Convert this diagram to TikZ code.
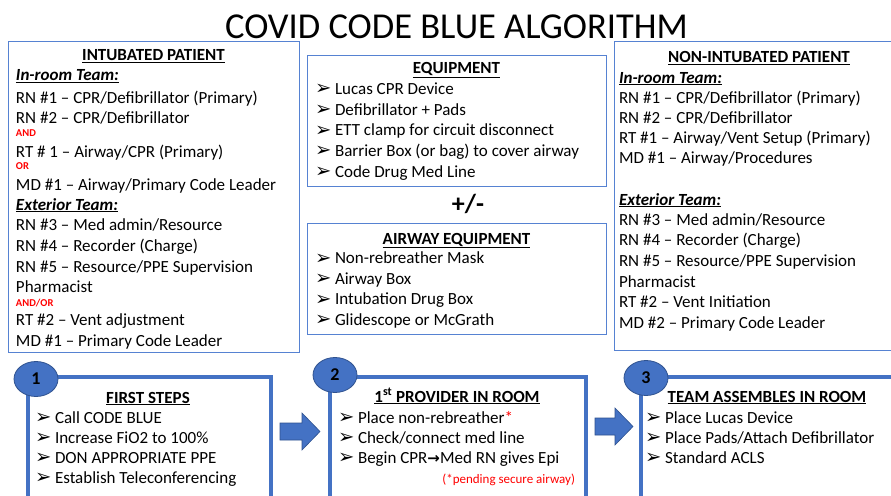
\documentclass[tikz,border=0pt]{standalone}
\usepackage{fontspec}
\setmainfont{Carlito}
\newfontfamily\dejavu{DejaVu Sans}
\usetikzlibrary{shapes.geometric}
\definecolor{accent}{RGB}{68,114,196}
\definecolor{accentdark}{RGB}{47,82,143}
\definecolor{thinblue}{RGB}{86,130,210}
\newcommand{\bitem}[1]{\makebox[20pt][l]{\raisebox{-0.5pt}{\fontsize{19.5}{14}\dejavu ➢}}#1}
\tikzset{
  plain/.style={inner sep=0pt, outer sep=0pt},
  txt/.style={plain, anchor=base west, font=\fontsize{17}{20}\selectfont},
  hdr/.style={plain, anchor=base, font=\fontsize{17}{20}\selectfont\bfseries},
  sub/.style={plain, anchor=base west, font=\fontsize{17}{20}\selectfont\bfseries\itshape},
  redsmall/.style={plain, anchor=base west, text=red, font=\fontsize{10.5}{12}\selectfont\bfseries},
  topbox/.style={draw=thinblue, line width=1.2pt, anchor=north west, inner sep=0pt},
  stepbox/.style={draw=accent, line width=4pt, anchor=north west, inner sep=0pt},
  badge/.style={ellipse, fill=accent, draw=accentdark, line width=0.8pt, inner sep=0pt,
    minimum width=44pt, minimum height=35pt, font=\fontsize{18}{20}\selectfont\bfseries},
  blockarrow/.style={fill=accent, draw=accentdark, line width=0.6pt},
}
\begin{document}
\begin{tikzpicture}[x=1pt,y=-1pt]
\useasboundingbox (0,0) rectangle (891,495);
\clip (0,0) rectangle (891,495);
\fill[white] (0,0) rectangle (891,495);

% title
\node[plain, anchor=base, font=\fontsize{36.5}{40}\selectfont] (title) at (456.5,38) {COVID CODE BLUE ALGORITHM};

% top boxes
\node[topbox, minimum width=291pt, minimum height=311pt] (intub) at (8,41) {};
\node[topbox, minimum width=299pt, minimum height=131pt] (equip) at (307,55) {};
\node[topbox, minimum width=299pt, minimum height=111pt] (airway) at (307,223) {};
\node[topbox, minimum width=290pt, minimum height=309pt] (nonint) at (614,41) {};

% intubated patient
\node[hdr] (i0) at (153.5,61) {\underline{INTUBATED PATIENT}};
\node[sub] (i1) at (16,81) {\underline{In-room Team:}};
\node[txt] (i2) at (16,103) {RN \#1 – CPR/Defibrillator (Primary)};
\node[txt] (i3) at (16,123) {RN \#2 – CPR/Defibrillator};
\node[redsmall] (i4) at (16,136.5) {AND};
\node[txt] (i5) at (16,157) {RT \# 1 – Airway/CPR (Primary)};
\node[redsmall] (i6) at (16,169) {OR};
\node[txt] (i7) at (16,190) {MD \#1 – Airway/Primary Code Leader};
\node[sub] (i8) at (16,210) {\underline{Exterior Team:}};
\node[txt] (i9) at (16,230.5) {RN \#3 – Med admin/Resource};
\node[txt] (i10) at (16,251) {RN \#4 – Recorder (Charge)};
\node[txt] (i11) at (16,272) {RN \#5 – Resource/PPE Supervision};
\node[txt] (i12) at (16,292) {Pharmacist};
\node[redsmall] (i13) at (16,306) {AND/OR};
\node[txt] (i14) at (16,325.5) {RT \#2 – Vent adjustment};
\node[txt] (i15) at (16,346) {MD \#1 – Primary Code Leader};

% non-intubated patient
\node[hdr] (n0) at (759,63) {\underline{NON-INTUBATED PATIENT}};
\node[sub] (n1) at (619,83) {\underline{In-room Team:}};
\node[txt] (n2) at (619,103) {RN \#1 – CPR/Defibrillator (Primary)};
\node[txt] (n3) at (619,123) {RN \#2 – CPR/Defibrillator};
\node[txt] (n4) at (619,143) {RT \#1 – Airway/Vent Setup (Primary)};
\node[txt] (n5) at (619,163) {MD \#1 – Airway/Procedures};
\node[sub] (n6) at (619,205) {\underline{Exterior Team:}};
\node[txt] (n7) at (619,225) {RN \#3 – Med admin/Resource};
\node[txt] (n8) at (619,245) {RN \#4 – Recorder (Charge)};
\node[txt] (n9) at (619,266) {RN \#5 – Resource/PPE Supervision};
\node[txt] (n10) at (619,287) {Pharmacist};
\node[txt] (n11) at (619,307) {RT \#2 – Vent Initiation};
\node[txt] (n12) at (619,328) {MD \#2 – Primary Code Leader};

% equipment
\node[hdr] (e0) at (456.5,74) {\underline{EQUIPMENT}};
\node[txt] (e1) at (315,94) {\bitem{Lucas CPR Device}};
\node[txt] (e2) at (315,115) {\bitem{Defibrillator + Pads}};
\node[txt] (e3) at (315,135.5) {\bitem{ETT clamp for circuit disconnect}};
\node[txt] (e4) at (315,156) {\bitem{Barrier Box (or bag) to cover airway}};
\node[txt] (e5) at (315,177) {\bitem{Code Drug Med Line}};
\node[plain, anchor=base, font=\fontsize{26}{28}\selectfont\bfseries] (pm) at (468,212) {+/-};
\node[hdr] (a0) at (456.5,244) {\underline{AIRWAY EQUIPMENT}};
\node[txt] (a1) at (315,263.5) {\bitem{Non-rebreather Mask}};
\node[txt] (a2) at (315,284) {\bitem{Airway Box}};
\node[txt] (a3) at (315,304.5) {\bitem{Intubation Drug Box}};
\node[txt] (a4) at (315,325) {\bitem{Glidescope or McGrath}};

% step boxes
\node[stepbox, minimum width=243pt, minimum height=150pt] (s1) at (26,375) {};
\node[stepbox, minimum width=256pt, minimum height=150pt] (s2) at (328,375) {};
\node[stepbox, minimum width=270pt, minimum height=150pt] (s3) at (639,375) {};

% step 1
\node[hdr] (f0) at (148,403) {\underline{FIRST STEPS}};
\node[txt] (f1) at (35,423) {\bitem{Call CODE BLUE}};
\node[txt] (f2) at (35,443) {\bitem{Increase FiO2 to 100\%}};
\node[txt] (f3) at (35,463) {\bitem{DON APPROPRIATE PPE}};
\node[txt] (f4) at (35,483) {\bitem{Establish Teleconferencing}};

% step 2
\node[hdr] (p0) at (457,402) {\underline{1\textsuperscript{st} PROVIDER IN ROOM}};
\node[txt] (p1) at (338,423) {\bitem{Place non-rebreather\textcolor{red}{*}}};
\node[txt] (p2) at (338,443) {\bitem{Check/connect med line}};
\node[txt] (p3) at (338,463) {\bitem{Begin CPR{\fontsize{15}{15}\dejavu\bfseries →}Med RN gives Epi}};
\node[plain, anchor=base east, text=red, font=\fontsize{13}{14}\selectfont] (p4) at (575,483) {(*pending secure airway)};

% step 3
\node[hdr] (t0) at (767,402) {\underline{TEAM ASSEMBLES IN ROOM}};
\node[txt] (t1) at (645,423) {\bitem{Place Lucas Device}};
\node[txt] (t2) at (645,443) {\bitem{Place Pads/Attach Defibrillator}};
\node[txt] (t3) at (645,463) {\bitem{Standard ACLS}};

% badges
\node[badge] (c1) at (36,379) {1};
\node[badge] (c2) at (335,375) {2};
\node[badge] (c3) at (646,378) {3};

% block arrows
\draw[blockarrow] (280,423) -- (302,423) -- (302,413) -- (320,431.5) -- (302,450) -- (302,440) -- (280,440) -- cycle;
\draw[blockarrow] (595,418) -- (615,418) -- (615,408) -- (633,426.5) -- (615,445) -- (615,435) -- (595,435) -- cycle;
\end{tikzpicture}
\end{document}
